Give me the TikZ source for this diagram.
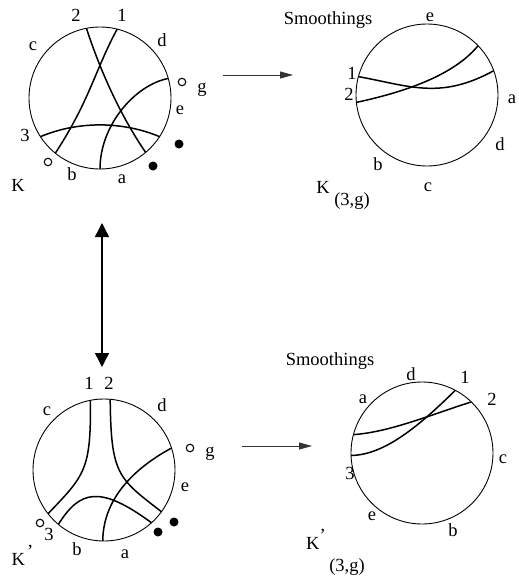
\documentclass[tikz,border=0pt]{standalone}
\usepackage{fontspec}
\setmainfont{Liberation Serif}
\usetikzlibrary{arrows.meta}

\begin{document}
\begin{tikzpicture}[
    x=1pt, y=-1pt,
    font=\fontsize{18.5}{22}\selectfont,
    disc/.style={
        circle, draw, line width=0.9pt, inner sep=0pt, outer sep=0pt,
        minimum size=142pt
    },
    chord/.style={line width=1.5pt},
    lbl/.style={inner sep=0pt, text height=1.5ex, text depth=0pt},
    hollow/.style={circle, draw, line width=1.1pt, inner sep=0pt, minimum size=7.5pt},
    blackdot/.style={circle, fill, inner sep=0pt, minimum size=9pt},
    move/.style={-{Triangle[length=13pt,width=7pt]}, line width=0.8pt, draw=black!80},
    swap/.style={{Triangle[length=14pt,width=14pt]}-{Triangle[length=14pt,width=14pt]}, line width=1.4pt}
]

\useasboundingbox (0,0) rectangle (519,576);

% the four chord diagrams
\node[disc] (K)   at (100,98)  {};
\node[disc] (Ks)  at (427,95)  {};
\node[disc] (Kp)  at (104,470) {};
\node[disc] (Kps) at (422,453) {};

% K
\draw[chord] (K.101) .. controls (100,70) and (120,115) .. (K.-50);
\draw[chord] (K.76) .. controls (95,70) and (90,100) .. (K.-129);
\draw[chord] (K.213) .. controls (80,120) and (125,122) .. (K.-33);
\draw[chord] (K.16) .. controls (135,85) and (100,125) .. (K.-90);

% K smoothed
\draw[chord] (Ks.165) .. controls (410,86) and (440,100) .. (Ks.20);
\draw[chord] (Ks.186) .. controls (390,95) and (450,80) .. (Ks.44);

% K'
\draw[chord] (Kp.101) .. controls (91,470) and (85,475) .. (Kp.218);
\draw[chord] (Kp.85) .. controls (111,475) and (118,478) .. (Kp.-36);
\draw[chord] (Kp.230) .. controls (80,490) and (100,485) .. (Kp.-48);
\draw[chord] (Kp.18) .. controls (140,465) and (103,495) .. (Kp.-91);

% K' smoothed
\draw[chord] (Kps.62) .. controls (420,425) and (385,455) .. (Kps.182);
\draw[chord] (Kps.46) .. controls (430,415) and (390,432) .. (Kps.165);

% base points
\node[hollow] (o1) at (182,82) {};
\node[hollow] (o2) at (48,162) {};
\node[blackdot] (f1) at (179,144) {};
\node[blackdot] (f2) at (153,166) {};
\node[hollow] (o3) at (190,448) {};
\node[hollow] (o4) at (40,523) {};
\node[blackdot] (f3) at (174,522) {};
\node[blackdot] (f4) at (158,532) {};

% labels
\foreach \nm/\txt/\px/\py in {
    a2/2/76/18, a1/1/122/18, ac/c/33/47, ad/d/162/43, ag/g/202/89,
    ae/e/180/111, a3/3/25/138, ab/b/72/177, aa/a/122/180, aK/K/18/188,
    bS/Smoothings/328/21, be/e/430/18, b1/1/352/76, b2/2/349/97,
    ba/a/512/100, bd/d/500/147, bc/c/428/188, bb/b/378/167,
    bK/K/323/190, bsub/{(3,g)}/352/202,
    c1/1/89/386, c2/2/109/386, cc/c/47/412, cd/d/162/408, cg/g/210/453,
    ce/e/185/488, c3/3/49/537, cb/b/77/552, ca/a/125/555,
    dS/Smoothings/330/362, dd/d/411/377, d1/1/465/380, d2/2/492/402,
    da/a/363/400, dc/c/503/460, d3/3/350/476, de/e/372/517,
    db/b/453/533, dsub/{(3,g)}/347/568
} {
    \node[lbl] (\nm) at (\px,\py) {\txt};
}
\node[lbl, anchor=west] (cK) at (11.5,562) {K\kern2pt\raisebox{8pt}{’}};
\node[lbl, anchor=west] (dK) at (306,546) {K\kern0pt\raisebox{8pt}{’}};

% moves
\coordinate (m1s) at (223,75);
\coordinate (m1e) at (293,75);
\coordinate (m2s) at (242,446);
\coordinate (m2e) at (312,446);
\coordinate (sw1) at (102,223);
\coordinate (sw2) at (102,367);
\draw[move] (m1s) -- (m1e);
\draw[move] (m2s) -- (m2e);
\draw[swap] (sw1) -- (sw2);

\end{tikzpicture}
\end{document}
